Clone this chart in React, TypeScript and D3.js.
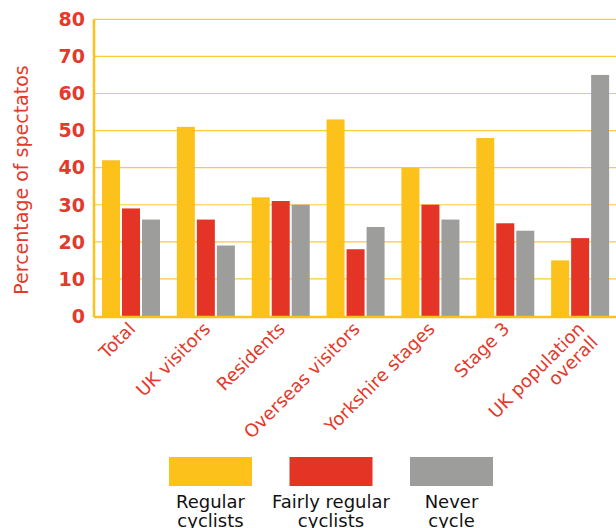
import React from "react";
import * as d3 from "d3";

const categories = ["Total", "UK visitors", "Residents", "Overseas visitors", "Yorkshire stages", "Stage 3", "UK population\noverall"];
const seriesNames = ["Regular\ncyclists", "Fairly regular\ncyclists", "Never\ncycle"];
const regular = [42, 51, 32, 53, 40, 48, 15];
const fairlyRegular = [29, 26, 31, 18, 30, 25, 21];
const never = [26, 19, 30, 24, 26, 23, 65];
const yTicks = [0, 10, 20, 30, 40, 50, 60, 70, 80];
const colors = ["#FCC21B", "#E33425", "#9D9D9C"];

const W = 616;
const H = 528;
const left = 94;
const right = 618;
const top = 19.3;
const bottom = 316;
const RED = "#E5392B";
const FONT = "'DejaVu Sans', sans-serif";

export default function App() {
  const series = [regular, fairlyRegular, never];
  const x = d3.scaleBand<string>().domain(categories).range([left, right]).paddingInner(0).paddingOuter(0);
  const y = d3.scaleLinear().domain([0, 80]).range([bottom, top]);
  const inner = d3.scaleBand<number>().domain([0, 1, 2]).range([8, 8 + 58]).paddingInner(2 / 20);

  return (
    <svg width={W} height={H} style={{ position: "absolute", left: 0, top: 0, background: "#fff" }}>
      {yTicks.filter((t) => t > 0).map((t) => (
        <line key={t} x1={left} x2={W} y1={y(t)} y2={y(t)} stroke="#FCC21B" strokeWidth={1.2} opacity={0.85} />
      ))}
      {categories.map((c, i) => (
        <g key={c}>
          {series.map((s, j) => (
            <rect key={j} x={(x(c) as number) + (inner(j) as number)} y={y(s[i])} width={inner.bandwidth()} height={bottom - y(s[i])} fill={colors[j]} />
          ))}
        </g>
      ))}
      <line x1={left} x2={left} y1={top} y2={bottom + 1} stroke="#FCC21B" strokeWidth={2.5} />
      <line x1={left} x2={W} y1={bottom + 1} y2={bottom + 1} stroke="#FCC21B" strokeWidth={2.5} />
      {yTicks.map((t) => (
        <text key={t} x={85} y={y(t)} dy="0.36em" textAnchor="end" fill={RED} fontFamily={FONT} fontWeight="bold" fontSize={19}>
          {t}
        </text>
      ))}
      <text transform={`translate(28,180) rotate(-90)`} textAnchor="middle" fill={RED} fontFamily={FONT} fontSize={19}>
        Percentage of spectatos
      </text>
      {categories.map((c) => {
        const cx = (x(c) as number) + x.bandwidth() / 2 + 5;
        const lines = c.split("\n");
        return (
          <text key={c} transform={`translate(${cx},${330}) rotate(-45)`} textAnchor="end" fill={RED} fontFamily={FONT} fontSize={18}>
            {lines.map((l, k) => (
              <tspan key={k} x={0} dy={k === 0 ? 0 : 19}>{l}</tspan>
            ))}
          </text>
        );
      })}
      {seriesNames.map((n, j) => {
        const sx = 169 + j * 120.5;
        return (
          <g key={n}>
            <rect x={sx} y={457} width={83} height={29} fill={colors[j]} />
            <text x={sx + 41.5} y={508} textAnchor="middle" fill="#111" fontFamily={FONT} fontSize={18}>
              {n.split("\n").map((l, k) => (
                <tspan key={k} x={sx + 41.5} dy={k === 0 ? 0 : 19}>{l}</tspan>
              ))}
            </text>
          </g>
        );
      })}
    </svg>
  );
}
